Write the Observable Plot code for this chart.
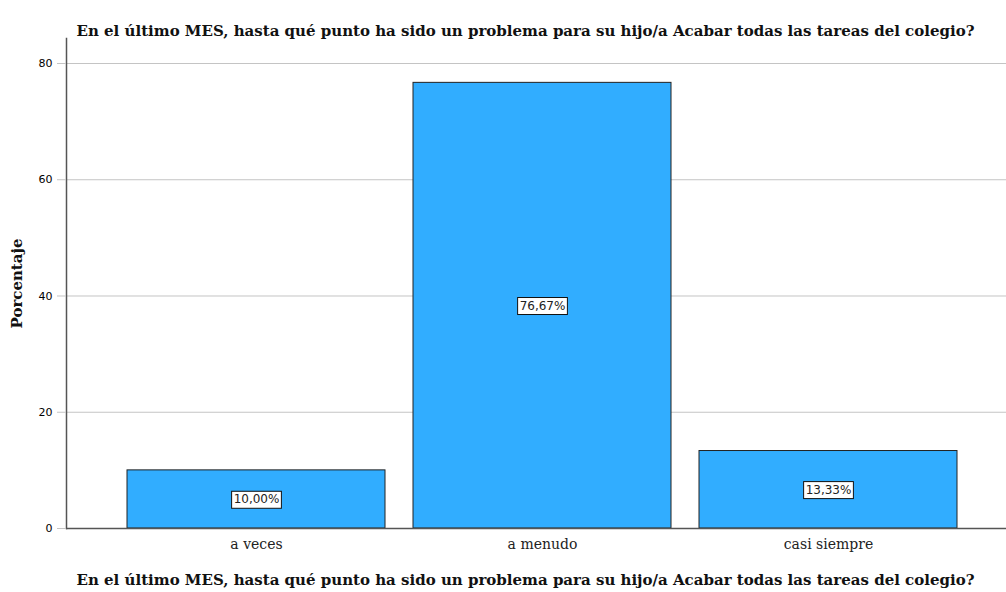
<!DOCTYPE html>
<html><head><meta charset="utf-8">
<script src="https://cdn.jsdelivr.net/npm/d3@7"></script>
<script src="https://cdn.jsdelivr.net/npm/@observablehq/plot@0.6"></script>
<style>body{margin:0;background:#fff;overflow:hidden}</style>
</head><body><div id="chart"></div>
<script>
const categories = ["a veces", "a menudo", "casi siempre"];
const percentages = [10.00, 76.67, 13.33];
const valueLabels = ["10,00%", "76,67%", "13,33%"];
const yTicks = [0, 20, 40, 60, 80];
const chartTitle = "En el último MES, hasta qué punto ha sido un problema para su hijo/a Acabar todas las tareas del colegio?";
const xTitle = "En el último MES, hasta qué punto ha sido un problema para su hijo/a Acabar todas las tareas del colegio?";
const yTitle = "Porcentaje";

const data = categories.map((c, i) => ({category: c, value: percentages[i], label: valueLabels[i]}));

const serif = "'DejaVu Serif', 'Liberation Serif', serif";
const sans = "'DejaVu Sans', sans-serif";

const plot = Plot.plot({
  width: 1006,
  height: 592,
  marginTop: 38,
  marginBottom: 64,
  marginLeft: 66,
  marginRight: 0,
  style: {background: "#fff", overflow: "visible"},
  x: {domain: categories, paddingInner: 0.098, paddingOuter: 0.192, align: 0.555, label: null},
  y: {domain: [0, 84.3], label: null},
  marks: [
    Plot.gridY(yTicks.filter(v => v > 0), {stroke: "#c4c4c4", strokeOpacity: 1}),
    Plot.barY(data, {x: "category", y: "value", fill: "#31adff", stroke: "#222", strokeWidth: 1}),
    Plot.ruleY([0], {stroke: "#555", strokeWidth: 1.5}),
    Plot.frame({anchor: "left", stroke: "#555", strokeWidth: 1.5}),
    Plot.axisY(yTicks, {tickSize: 9, tickPadding: 5, stroke: "#c4c4c4", fontFamily: sans, fontSize: 11, label: null}),
    Plot.axisX({tickSize: 0, tickPadding: 11, fontFamily: serif, fontSize: 14, fill: "#222", label: null}),
    Plot.text(data, {x: "category", y: d => d.value / 2, text: "label", fontFamily: sans, fontSize: 12, fill: "#222"}),
    Plot.text([chartTitle], {text: d => d, frameAnchor: "top", dx: -11, dy: -13, fontFamily: serif, fontWeight: "bold", fontSize: 15, fill: "#111"}),
    Plot.text([xTitle], {text: d => d, frameAnchor: "bottom", dx: -11, dy: 56, fontFamily: serif, fontWeight: "bold", fontSize: 15, fill: "#111"}),
    Plot.text([yTitle], {text: d => d, frameAnchor: "left", textAnchor: "middle", rotate: -90, dx: -49, fontFamily: serif, fontWeight: "bold", fontSize: 15, fill: "#111"})
  ]
});

document.getElementById("chart").append(plot);

plot.querySelectorAll("text").forEach(t => {
  if (!valueLabels.includes(t.textContent)) return;
  const b = t.getBBox();
  const r = document.createElementNS("http://www.w3.org/2000/svg", "rect");
  r.setAttribute("x", b.x - 2);
  r.setAttribute("y", b.y - 1);
  r.setAttribute("width", b.width + 4);
  r.setAttribute("height", b.height + 3);
  r.setAttribute("fill", "#fff");
  r.setAttribute("stroke", "#111");
  r.setAttribute("stroke-width", 1);
  if (t.getAttribute("transform")) r.setAttribute("transform", t.getAttribute("transform"));
  t.parentNode.insertBefore(r, t);
});
</script>
</body></html>
